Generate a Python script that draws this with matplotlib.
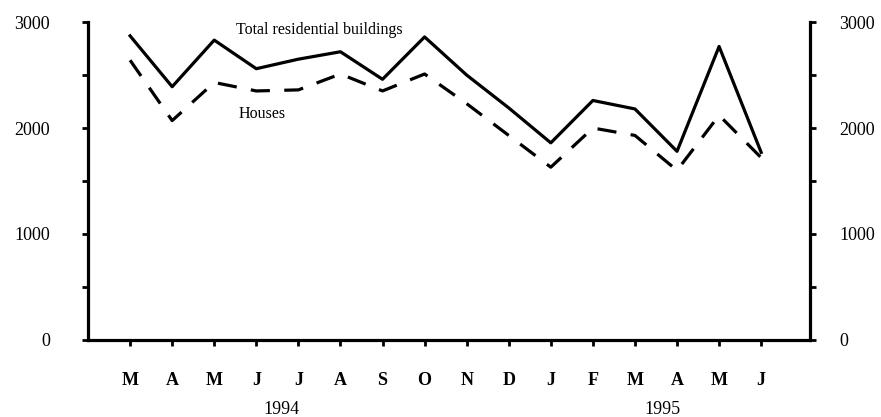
import matplotlib
matplotlib.use("Agg")
import matplotlib.pyplot as plt
from matplotlib.ticker import MultipleLocator

months = ["M", "A", "M", "J", "J", "A", "S", "O", "N", "D", "J", "F", "M", "A", "M", "J"]
total = [2870, 2390, 2830, 2560, 2650, 2720, 2460, 2860, 2500, 2190, 1860, 2260, 2180, 1780, 2770, 1770]
houses = [2640, 2070, 2430, 2350, 2360, 2510, 2350, 2510, 2230, 1930, 1630, 2000, 1930, 1600, 2120, 1720]
years = ["1994", "1995"]

plt.rcParams['font.family'] = ['Liberation Serif', 'DejaVu Serif']

fig = plt.figure(figsize=(8.81, 4.17), dpi=100)
ax = fig.add_axes([0.0999, 0.185, 0.819, 0.762])

x = list(range(len(months)))
ax.plot(x, total, color='black', lw=2.3)
ax.plot(x, houses, color='black', lw=2.3, dashes=(6, 4.5))

ax.set_xlim(-1, 16.15)
ax.set_ylim(0, 3000)

ax.spines['top'].set_visible(False)
ax.spines['right'].set_visible(False)
for s in ['left', 'bottom']:
    ax.spines[s].set_linewidth(2.3)

ax.set_xticks(x)
ax.set_xticklabels(months, fontsize=13, fontweight='bold')
ax.tick_params(axis='x', direction='out', length=4, width=2, pad=19)

# right-hand axis, same scale
ax2 = ax.twinx()
ax2.set_ylim(ax.get_ylim())
ax2.spines['top'].set_visible(False)
ax2.spines['left'].set_visible(False)
ax2.spines['bottom'].set_visible(False)
ax2.spines['right'].set_linewidth(2.3)

for a, pad in [(ax, 23), (ax2, 17)]:
    a.yaxis.set_major_locator(MultipleLocator(1000))
    a.yaxis.set_minor_locator(MultipleLocator(500))
    a.tick_params(axis='y', which='both', direction='out', width=2)
    a.tick_params(axis='y', which='major', length=4.5, pad=pad, labelsize=13)
    a.tick_params(axis='y', which='minor', length=4)

# year labels under the month labels
ax.text(3.6, -0.22, years[0], transform=ax.get_xaxis_transform(),
        ha='center', va='center', fontsize=13)
ax.text(12.65, -0.22, years[1], transform=ax.get_xaxis_transform(),
        ha='center', va='center', fontsize=13)

# series labels
ax.text(2.52, 2925, "Total residential buildings", fontsize=11.5,
        ha='left', va='center')
ax.text(2.57, 2130, "Houses", fontsize=11.5, ha='left', va='center')

fig.savefig("out.png", dpi=100)
